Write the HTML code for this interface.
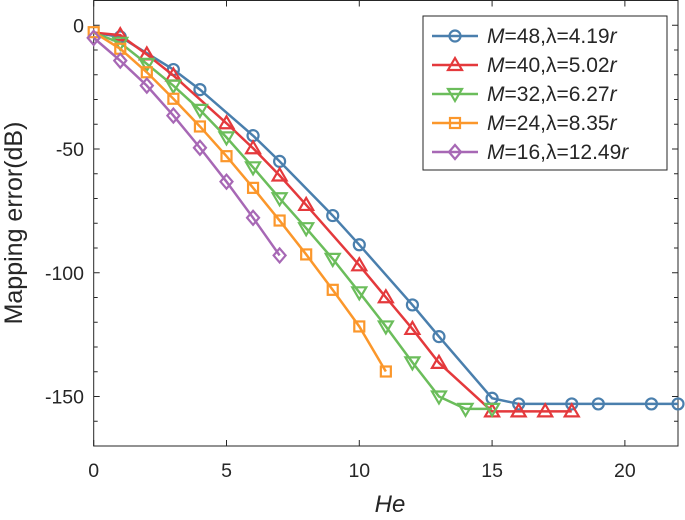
<!DOCTYPE html>
<html><head><meta charset="utf-8"><style>
body{margin:0;background:#fff;}
svg{display:block;font-family:"Liberation Sans",sans-serif;}
</style></head><body>
<svg id="chart" width="685" height="520"></svg>
<script>
const xTicks=[0,5,10,15,20];
const yTicks=[0,-50,-100,-150];
const seriesM=["48","40","32","24","16"];
const seriesLam=["4.19","5.02","6.27","8.35","12.49"];
const colors=["#4a7fad","#e4393c","#6bbd5b","#fb972b","#a768b5"];
const markers=["circle","tri-up","tri-down","square","diamond"];
const blueX=[0,1,3,4,6,7,9,10,12,13,15,16,18,19,21,22];
const blueY=[-3,-4.7,-17.9,-26,-44.6,-55,-76.9,-88.7,-113,-125.8,-150.7,-153,-153,-153,-153,-153];
const redX=[0,1,2,3,5,6,7,8,10,11,12,13,15,16,17,18];
const redY=[-3,-4,-11.8,-20.3,-39.6,-49.7,-60.7,-72.6,-97,-109.9,-122.7,-136.4,-156,-156,-156,-156];
const greenX=[0,1,2,3,4,5,6,7,8,9,10,11,12,13,14,15];
const greenY=[-3,-7.1,-15.6,-24.4,-34.2,-45.3,-57.4,-69.9,-82,-94.4,-107.9,-121.7,-136.2,-150,-155,-155];
const orangeX=[0,1,2,3,4,5,6,7,8,9,10,11];
const orangeY=[-2.8,-9.5,-19,-29.7,-40.9,-52.9,-65.7,-78.9,-92.6,-106.9,-121.7,-139.9];
const purpleX=[0,1,2,3,4,5,6,7];
const purpleY=[-5.1,-14.3,-24.4,-36.5,-49.5,-63.2,-77.8,-93];
const allX=[blueX,redX,greenX,orangeX,purpleX];
const allY=[blueY,redY,greenY,orangeY,purpleY];
const noMarkerAtZero=[true,true,true,false,false];

const L=93.7,R=678,T=0.5,B=446;
const xMin=0,xMax=22,yMin=-170,yMax=10;
const sx=v=>L+(v-xMin)/(xMax-xMin)*(R-L);
const sy=v=>B-(v-yMin)/(yMax-yMin)*(B-T);
const NS="http://www.w3.org/2000/svg";
const svg=document.getElementById('chart');
function mk(tag,attrs,parent){const e=document.createElementNS(NS,tag);for(const k in attrs)e.setAttribute(k,attrs[k]);(parent||svg).appendChild(e);return e;}

const box=mk('rect',{x:L,y:T,width:R-L,height:B-T,fill:'none',stroke:'#262626','stroke-width':1});


for(let v=yMin;v<=yMax;v+=10){
  const len=(v%50===0)?6:4;
  const t1=mk('line',{x1:L,x2:L+len,y1:sy(v),y2:sy(v),stroke:'#262626'});
  
  
  const t2=mk('line',{x1:R,x2:R-len,y1:sy(v),y2:sy(v),stroke:'#262626'});
  
  
}
xTicks.forEach(v=>{
  const a=mk('line',{x1:sx(v),x2:sx(v),y1:B,y2:B-6,stroke:'#262626'});
  
  
  const b=mk('line',{x1:sx(v),x2:sx(v),y1:T,y2:T+6,stroke:'#262626'});
  
  
  const t=mk('text',{x:sx(v),y:477,'text-anchor':'middle','font-size':19.5,fill:'#262626'});
  t.textContent=v;
  
  
});
yTicks.forEach(v=>{
  const t=mk('text',{x:84,y:sy(v)+7,'text-anchor':'end','font-size':19.5,fill:'#262626'});
  t.textContent=v;
  
  
});
const xt=mk('text',{x:390,y:512,'text-anchor':'middle','font-size':24,'font-style':'italic',fill:'#262626'});
xt.textContent='He';


const yt=mk('text',{x:0,y:0,'text-anchor':'middle','font-size':25,fill:'#262626',transform:'translate(22,223) rotate(-90)'});
yt.textContent='Mapping error(dB)';



function marker(type,x,y,c,parent){
  const s={fill:'none',stroke:c,'stroke-width':2.2};
  let e;
  if(type==='circle')e=mk('circle',Object.assign({cx:x,cy:y,r:5.5},s),parent);
  else if(type==='square')e=mk('rect',Object.assign({x:x-5,y:y-5,width:10,height:10},s),parent);
  else if(type==='tri-up')e=mk('polygon',Object.assign({points:`${x},${y-7} ${x-7},${y+5} ${x+7},${y+5}`},s),parent);
  else if(type==='tri-down')e=mk('polygon',Object.assign({points:`${x},${y+7} ${x-7},${y-5} ${x+7},${y-5}`},s),parent);
  else e=mk('polygon',Object.assign({points:`${x},${y-7} ${x+6},${y} ${x},${y+7} ${x-6},${y}`},s),parent);
  return e;
}
allX.forEach((xs,i)=>{
  const g=mk('g',{});
  
  
  const pts=xs.map((x,j)=>sx(x)+','+sy(allY[i][j])).join(' ');
  const pl=mk('polyline',{points:pts,fill:'none',stroke:colors[i],'stroke-width':2.5},g);
  
  
  xs.forEach((x,j)=>{
    if(j===0&&noMarkerAtZero[i])return;
    const m=marker(markers[i],sx(x),sy(allY[i][j]),colors[i],g);
    
    
  });
});
const lg=mk('g',{});


mk('rect',{x:423,y:16,width:244,height:154,fill:'#fff',stroke:'#262626','stroke-width':1},lg);
seriesM.forEach((m,i)=>{
  const y=36+i*29;
  const en=mk('g',{},lg);
  
  
  mk('line',{x1:432,x2:478,y1:y,y2:y,stroke:colors[i],'stroke-width':2.5},en);
  marker(markers[i],455,y,colors[i],en);
  const t=mk('text',{x:487,y:y+7,'font-size':21,fill:'#262626'},en);
  t.innerHTML=`<tspan font-style="italic">M</tspan>=${m},λ=${seriesLam[i]}<tspan font-style="italic">r</tspan>`;
});
</script>
</body></html>
